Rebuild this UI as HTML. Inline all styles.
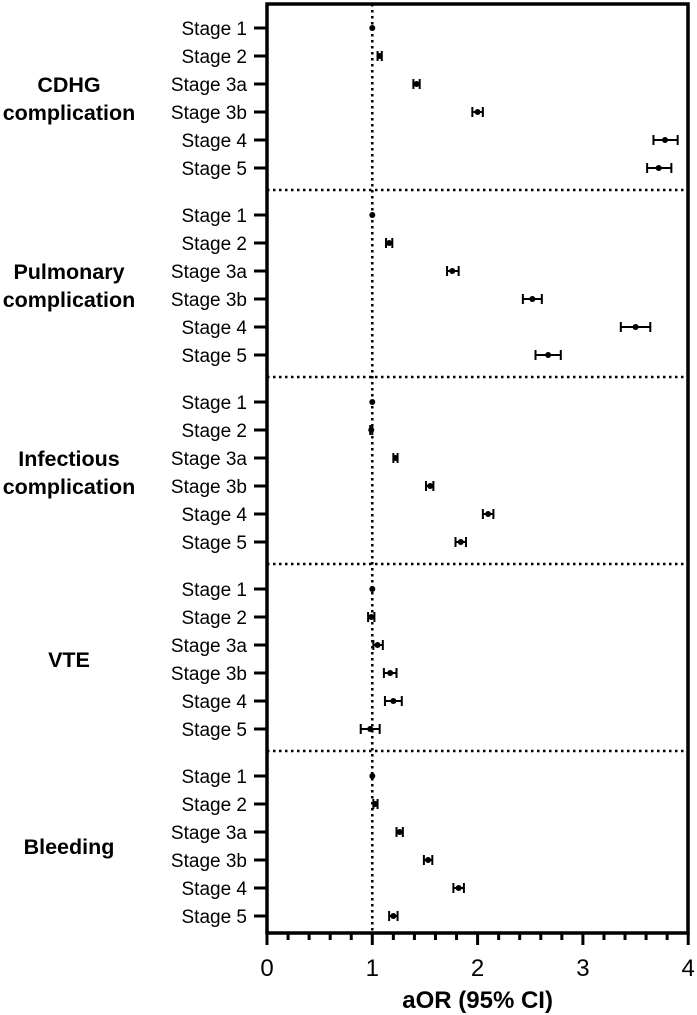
<!DOCTYPE html>
<html><head><meta charset="utf-8"><style>
html,body{margin:0;padding:0;background:#fff;}
svg{display:block;font-family:"Liberation Sans",Arial,sans-serif;}
</style></head><body>
<svg id="chart" width="697" height="1015" viewBox="0 0 697 1015"></svg>
<script>
const groups = ["CDHG|complication","Pulmonary|complication","Infectious|complication","VTE","Bleeding"];
const stages = ["Stage 1","Stage 2","Stage 3a","Stage 3b","Stage 4","Stage 5"];
const estimates = [
 [1,1.07,1.42,2.00,3.78,3.72],
 [1,1.16,1.76,2.52,3.50,2.67],
 [1,0.99,1.22,1.55,2.10,1.84],
 [1,0.99,1.05,1.17,1.20,0.98],
 [1,1.03,1.26,1.53,1.82,1.20]
];
const lower = [
 [1,1.05,1.39,1.95,3.67,3.61],
 [1,1.13,1.71,2.43,3.36,2.55],
 [1,0.98,1.20,1.51,2.05,1.79],
 [1,0.96,1.01,1.11,1.12,0.89],
 [1,1.01,1.23,1.49,1.77,1.16]
];
const upper = [
 [1,1.09,1.45,2.05,3.90,3.84],
 [1,1.19,1.82,2.61,3.64,2.79],
 [1,1.00,1.24,1.58,2.15,1.89],
 [1,1.02,1.10,1.23,1.28,1.07],
 [1,1.05,1.29,1.57,1.87,1.24]
];
const xTicks = [0,1,2,3,4];

const NS="http://www.w3.org/2000/svg";
const svg=document.getElementById('chart');
const X0=267, XS=105.3, TOP=4, BOT=933, XR=688;
function xs(v){return X0+v*XS;}
function ys(g,i){return 28+g*187+i*28;}
function mk(tag,attrs,parent){const e=document.createElementNS(NS,tag);for(const k in attrs)e.setAttribute(k,attrs[k]);(parent||svg).appendChild(e);return e;}

const ref=mk('line',{x1:xs(1),x2:xs(1),y1:TOP,y2:BOT,stroke:'#000','stroke-width':2.5,'stroke-dasharray':'2.5 3.5'});



for(let g=0;g<groups.length-1;g++){
 const y=ys(g,5)+22;
 const s=mk('line',{x1:X0,x2:XR,y1:y,y2:y,stroke:'#000','stroke-width':2.5,'stroke-dasharray':'2.5 3.5'});
 
 
}

const fr=mk('rect',{x:X0,y:TOP,width:XR-X0,height:BOT-TOP,fill:'none',stroke:'#000','stroke-width':3.5});



for(let k=0;k<=20;k++){
 const v=k*0.2, major=(k%5===0);
 const t=mk('line',{x1:xs(v),x2:xs(v),y1:BOT,y2:BOT+(major?12:7),stroke:'#000','stroke-width':3});
 
 
}
xTicks.forEach(v=>{
 const t=mk('text',{x:xs(v),y:976,'text-anchor':'middle','font-size':24});
 t.textContent=v;
 
 
});
const xt=mk('text',{x:xs(2),y:1008,'text-anchor':'middle','font-size':24,'font-weight':'bold'});
xt.textContent='aOR (95% CI)';



groups.forEach((gname,g)=>{
 const lines=gname.split('|');
 const cy=(ys(g,0)+ys(g,5))/2;
 const gl=mk('text',{x:69,'text-anchor':'middle','font-size':21.5,'font-weight':'bold'});
 
 
 lines.forEach((ln,j)=>{
  const ts=mk('tspan',{x:69,y:cy+8+(j-(lines.length-1)/2)*28},gl);
  ts.textContent=ln;
 });
 stages.forEach((st,i)=>{
  const y=ys(g,i);
  const lb=mk('text',{x:247,y:y+7,'text-anchor':'end','font-size':19});
  lb.textContent=st;
  
  
  const tk=mk('line',{x1:254,x2:X0,y1:y,y2:y,stroke:'#000','stroke-width':3});
  
  
  const gg=mk('g',{});
  
  
  const a=xs(lower[g][i]), b=xs(upper[g][i]);
  if(b-a>1){
   mk('line',{x1:a,x2:b,y1:y,y2:y,stroke:'#000','stroke-width':2},gg);
   mk('line',{x1:a,x2:a,y1:y-5,y2:y+5,stroke:'#000','stroke-width':2},gg);
   mk('line',{x1:b,x2:b,y1:y-5,y2:y+5,stroke:'#000','stroke-width':2},gg);
  }
  mk('circle',{cx:xs(estimates[g][i]),cy:y,r:3,fill:'#000'},gg);
 });
});
</script>
</body></html>
